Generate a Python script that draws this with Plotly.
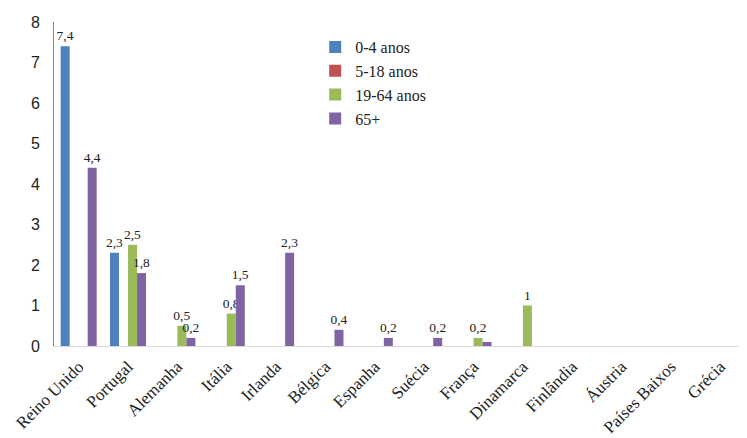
import plotly.graph_objects as go

categories = ["Reino Unido", "Portugal", "Alemanha", "Itália", "Irlanda", "Bélgica",
              "Espanha", "Suécia", "França", "Dinamarca", "Finlândia", "Áustria",
              "Países Baixos", "Grécia"]
series_names = ["0-4 anos", "5-18 anos", "19-64 anos", "65+"]
v_0_4 = [7.4, 2.3, 0, 0, 0, 0, 0, 0, 0, 0, 0, 0, 0, 0]
v_5_18 = [0, 0, 0, 0, 0, 0, 0, 0, 0, 0, 0, 0, 0, 0]
v_19_64 = [0, 2.5, 0.5, 0.8, 0, 0, 0, 0, 0.2, 1, 0, 0, 0, 0]
v_65 = [4.4, 1.8, 0.2, 1.5, 2.3, 0.4, 0.2, 0.2, 0.1, 0, 0, 0, 0, 0]
colors = ["#4F81BD", "#C0504D", "#9BBB59", "#8064A2"]

def labels(vals, skip=()):
    out = []
    for i, v in enumerate(vals):
        if v == 0 or i in skip:
            out.append("")
        else:
            out.append(("%g" % v).replace(".", ","))
    return out

fig = go.Figure()
all_vals = [v_0_4, v_5_18, v_19_64, v_65]
for name, vals, c in zip(series_names, all_vals, colors):
    skip = (8,) if name == "65+" else ()
    fig.add_trace(go.Bar(
        x=categories, y=vals, name=name, marker_color=c, marker_line_width=0,
        text=labels(vals, skip), textposition="outside", cliponaxis=False,
        constraintext="none",
        outsidetextfont=dict(family="Liberation Serif", size=13.5, color="#222"),
    ))

fig.update_layout(
    width=739, height=430, barmode="group", bargap=0.27, bargroupgap=0,
    plot_bgcolor="white", paper_bgcolor="white",
    margin=dict(l=46, r=2, t=14, b=92, autoexpand=False),
    legend=dict(x=0.378, y=0.975, xanchor="left", yanchor="top",
                font=dict(family="Liberation Serif", size=16, color="#222"),
                itemwidth=30, tracegroupgap=0, bgcolor="rgba(0,0,0,0)"),
    xaxis=dict(showline=True, linecolor="#D9D9D9", linewidth=1, ticks="",
               tickangle=-45, automargin=False, ticklabelstandoff=3,
               tickfont=dict(family="Liberation Serif", size=17, color="#222"),
               showgrid=False),
    yaxis=dict(range=[0, 8], dtick=1, showline=True, linecolor="#868686", linewidth=1,
               ticks="", showgrid=False, zeroline=False, automargin=False,
               ticklabelstandoff=10,
               tickfont=dict(family="Liberation Sans", size=16, color="#222")),
)
fig.write_html("out.html")
